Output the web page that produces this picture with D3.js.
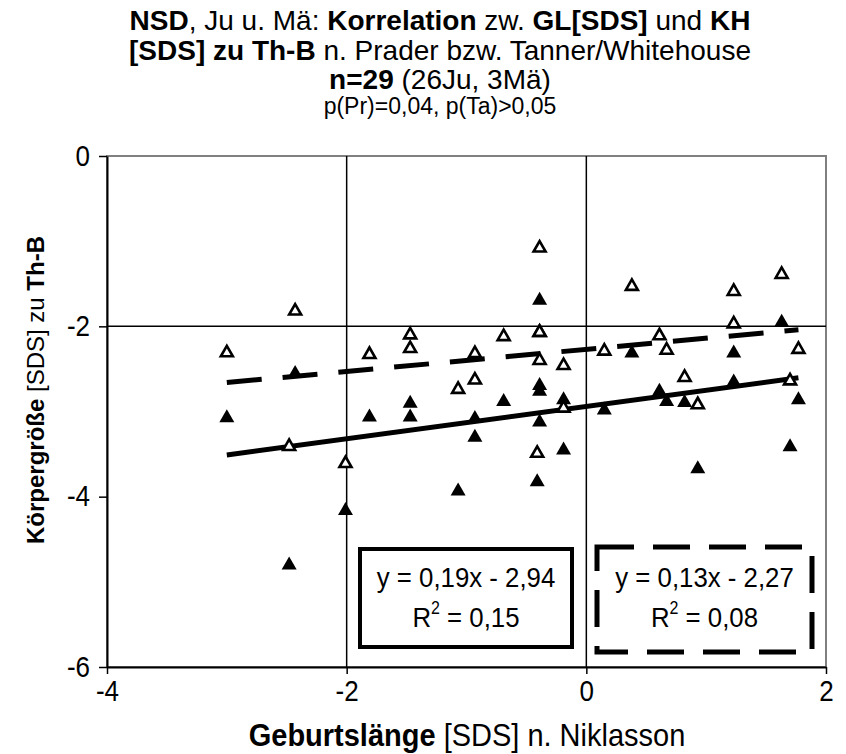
<!DOCTYPE html>
<html>
<head>
<meta charset="utf-8">
<script src="https://cdn.jsdelivr.net/npm/d3@7"></script>
<style>
  html, body { margin: 0; padding: 0; background: #fff; }
  svg { display: block; font-family: "Liberation Sans", Arial, sans-serif; }
</style>
</head>
<body>
<svg id="chart" width="846" height="754"></svg>
<script>
// Geburtslänge [SDS] n. Niklasson, one value per child
const birthLength = [
  -3.00, -2.43, -2.48, -2.01, -1.81, -1.47, -1.47, -1.07, -0.93, -0.93,
  -0.69, -0.39, -0.39, -0.39, -0.39, -0.41, -0.19, -0.19, 0.15, 0.38,
  0.61, 0.67, 0.82, 0.93, 1.23, 1.23, 1.63, 1.70, 1.77
];
// Körpergröße [SDS] zu Th-B, Referenz Prader (gefüllte Dreiecke)
const heightPrader = [
  -3.05, -2.53, -4.78, -4.14, -3.04, -2.88, -3.04, -3.91, -3.06, -3.28,
  -2.86, -1.67, -2.67, -2.74, -3.10, -3.80, -2.84, -3.43, -2.96, -2.29,
  -2.74, -2.86, -2.87, -3.65, -2.29, -2.63, -1.93, -3.39, -2.84
];
// Körpergröße [SDS] zu Th-B, Referenz Tanner/Whitehouse (offene Dreiecke)
const heightTanner = [
  -2.29, -1.80, -3.39, -3.59, -2.31, -2.08, -2.24, -2.72, -2.30, -2.61,
  -2.10, -1.06, -2.05, -2.05, -2.38, -3.47, -2.44, -2.94, -2.27, -1.51,
  -2.09, -2.26, -2.58, -2.90, -1.57, -1.95, -1.37, -2.62, -2.25
];
// Lineare Regression: Steigung, Achsenabschnitt, Bestimmtheitsmaß
const fitSlope = [0.19, 0.13];
const fitIntercept = [-2.94, -2.27];
const fitR2 = [0.15, 0.08];

const xTicks = [-4, -2, 0, 2];
const yTicks = [0, -2, -4, -6];
const refX = [-2, 0];
const refY = [-2];

const W = 846, H = 754;
const plot = { left: 107, right: 826, top: 156, bottom: 667 };
const FONT = "'Liberation Sans', Arial, sans-serif";
// Axis and box text is drawn slightly condensed: glyphs K times taller than their width suggests
const K = 1.1;

const svg = d3.select("#chart");
const x = d3.scaleLinear().domain([-4, 2]).range([plot.left, plot.right]);
const y = d3.scaleLinear().domain([-6, 0]).range([plot.bottom, plot.top]);
const fmt = v => d3.format(".2f")(v).replace(".", ",");
const intFmt = d => d3.format("d")(d).replace("−", "-");

// Text helper: size is the width-equivalent font size, k the vertical stretch
function label(px, py, size, k = K, anchor = "middle") {
  return svg.append("text")
    .attr("transform", `translate(${px},${py}) scale(${1 / k},1)`)
    .attr("text-anchor", anchor)
    .style("font-family", FONT)
    .style("font-size", (size * k) + "px");
}

// Plot frame
svg.append("rect")
  .attr("x", plot.left).attr("y", plot.top)
  .attr("width", plot.right - plot.left).attr("height", plot.bottom - plot.top)
  .attr("fill", "#fff").attr("stroke", "#808080").attr("stroke-width", 2);

// Reference lines
svg.selectAll(".refx").data(refX).join("line")
  .attr("x1", d => x(d)).attr("x2", d => x(d))
  .attr("y1", plot.top).attr("y2", plot.bottom)
  .attr("stroke", "#000").attr("stroke-width", 1.5);
svg.selectAll(".refy").data(refY).join("line")
  .attr("x1", plot.left).attr("x2", plot.right)
  .attr("y1", d => y(d)).attr("y2", d => y(d))
  .attr("stroke", "#000").attr("stroke-width", 1.5);

// Axes
const xAxis = svg.append("g")
  .attr("transform", `translate(0,${plot.bottom})`)
  .call(d3.axisBottom(x).tickValues(xTicks).tickSizeOuter(0).tickSizeInner(7).tickPadding(7)
    .tickFormat(intFmt));
const yAxis = svg.append("g")
  .attr("transform", `translate(${plot.left},0)`)
  .call(d3.axisLeft(y).tickValues(yTicks).tickSizeOuter(0).tickSizeInner(8).tickPadding(9)
    .tickFormat(intFmt));
[xAxis, yAxis].forEach(g => {
  g.select(".domain").attr("stroke", "#000").attr("stroke-width", 2);
  g.selectAll(".tick line").attr("stroke", "#000").attr("stroke-width", 1.5);
  g.selectAll(".tick text").attr("fill", "#000")
    .style("font-family", FONT).style("font-size", (26 * K) + "px")
    .attr("x", function () { return (+d3.select(this).attr("x") || 0) * K; })
    .attr("transform", `scale(${1 / K},1)`);
});

// Regression lines over the observed range
const xExt = d3.extent(birthLength);
const fits = fitSlope.map((m, i) => ({ m, b: fitIntercept[i], r2: fitR2[i], dashed: i === 1 }));
const line = d3.line().x(p => x(p[0])).y(p => y(p[1]));
svg.selectAll(".fit").data(fits).join("path")
  .attr("d", f => line(xExt.map(v => [v, f.m * v + f.b])))
  .attr("fill", "none").attr("stroke", "#000").attr("stroke-width", 5)
  .attr("stroke-dasharray", f => f.dashed ? "35 21" : null);

// Markers
const tri = (w, h) => `M0,${-h / 2}L${w / 2},${h / 2}L${-w / 2},${h / 2}Z`;
const points = birthLength.map((bl, i) => ({ bl, pr: heightPrader[i], ta: heightTanner[i] }));
svg.selectAll(".pr").data(points).join("path")
  .attr("transform", d => `translate(${x(d.bl)},${y(d.pr)})`)
  .attr("d", tri(15, 13)).attr("fill", "#000");
svg.selectAll(".ta").data(points).join("path")
  .attr("transform", d => `translate(${x(d.bl)},${y(d.ta)})`)
  .attr("d", tri(12, 10.5)).attr("fill", "#fff").attr("stroke", "#000").attr("stroke-width", 2.6)
  .attr("stroke-linejoin", "miter");

// Regression equation boxes
const boxes = [
  { x0: 360, y0: 549, x1: 572, y1: 647, sw: 4, dash: null },
  { x0: 597, y0: 547, x1: 812, y1: 652, sw: 5, dash: "37 19" }
];
fits.forEach((f, i) => {
  const b = boxes[i];
  svg.append("rect")
    .attr("x", b.x0).attr("y", b.y0).attr("width", b.x1 - b.x0).attr("height", b.y1 - b.y0)
    .attr("fill", "#fff").attr("stroke", "#000").attr("stroke-width", b.sw)
    .attr("stroke-dasharray", b.dash);
  const cx = (b.x0 + b.x1) / 2;
  label(cx, 587, 25.8).text(`y = ${fmt(f.m)}x - ${fmt(-f.b)}`);
  const t = label(cx, 627, 25.8);
  t.append("tspan").text("R");
  t.append("tspan").attr("dy", -13).style("font-size", (16 * K) + "px").text("2");
  t.append("tspan").attr("dy", 13).text(` = ${fmt(f.r2)}`);
});

// Title
const title = [
  { y: 30, size: 28, parts: [["NSD", 1], [", Ju u. Mä: ", 0], ["Korrelation", 1], [" zw. ", 0], ["GL[SDS]", 1], [" und ", 0], ["KH", 1]] },
  { y: 60, size: 28, parts: [["[SDS] zu Th-B", 1], [" n. Prader bzw. Tanner/Whitehouse", 0]] },
  { y: 89, size: 28, parts: [["n=29", 1], [" (26Ju, 3Mä)", 0]] },
  { y: 114, size: 23, parts: [["p(Pr)=0,04, p(Ta)>0,05", 0]] }
];
title.forEach(l => {
  const t = label(440, l.y, l.size, 1);
  l.parts.forEach(([s, b]) => t.append("tspan").attr("font-weight", b ? "bold" : "normal").text(s));
});

// Axis titles
const xt = label(467, 746, 29);
xt.append("tspan").attr("font-weight", "bold").text("Geburtslänge");
xt.append("tspan").text(" [SDS] n. Niklasson");

const yt = svg.append("text").attr("transform", "translate(44,390) rotate(-90)")
  .attr("text-anchor", "middle").style("font-family", FONT).style("font-size", "24px");
yt.append("tspan").attr("font-weight", "bold").text("Körpergröße");
yt.append("tspan").text(" [SDS] zu ");
yt.append("tspan").attr("font-weight", "bold").text("Th-B");
</script>
</body>
</html>
